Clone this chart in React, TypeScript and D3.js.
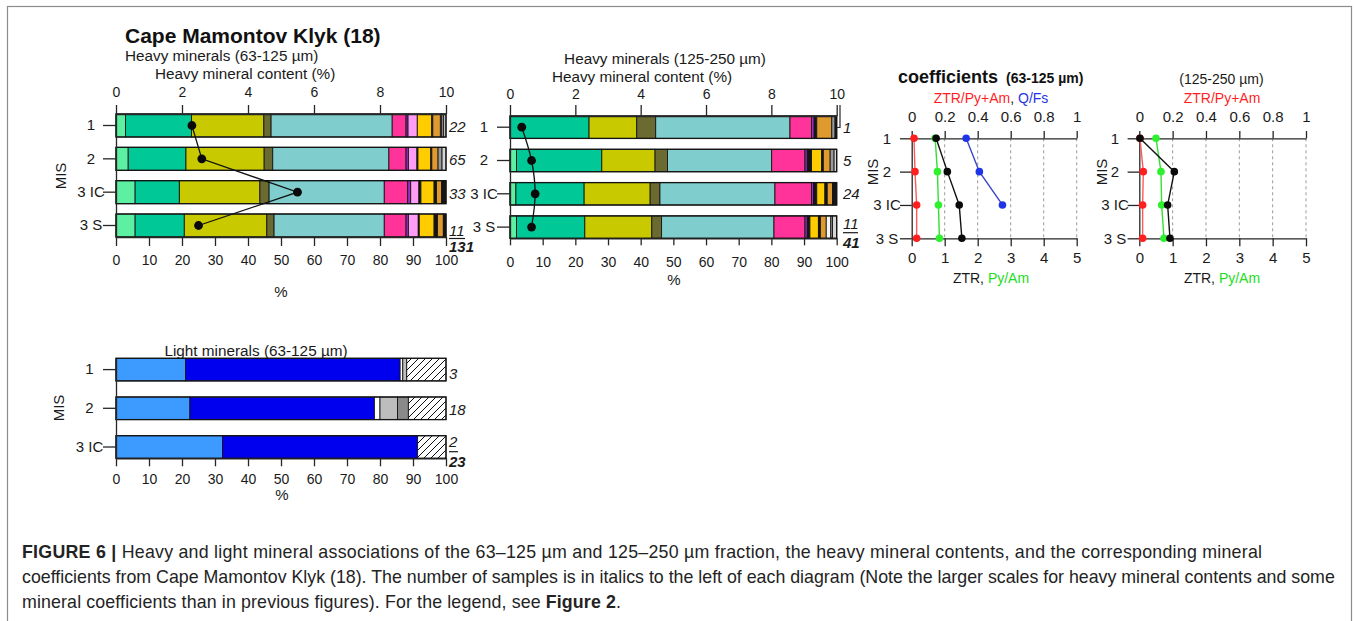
import React, { useEffect, useRef } from 'react';
import * as d3 from 'd3';

const FONT = "'Liberation Sans', Arial, Helvetica, sans-serif";
const W = 1354;
const H = 621;

// ---------------- data ----------------
const MIS_HEAVY = ['1', '2', '3 IC', '3 S'];
const MIS_LIGHT = ['1', '2', '3 IC'];

const HEAVY_KEYS = ['lightGreen', 'teal', 'olive', 'darkOlive', 'cyan', 'magenta', 'purple', 'pink', 'black1', 'gold', 'black2', 'orange', 'white', 'gray', 'lightGray', 'black3'];
const HEAVY_COLORS = ['#5df0a2', '#00c896', '#c9c900', '#6b6a30', '#80cdcd', '#ff3399', '#9b30c8', '#ff9cf5', '#151515', '#ffcc00', '#151515', '#de9a2e', '#f4f4f4', '#9a9a9a', '#d6d6d6', '#151515'];

// heavy minerals 63-125 µm (% per MIS row)
const heavyFine = [
  [2.9, 20.0, 21.9, 2.2, 36.7, 4.2, 0.6, 2.8, 0, 4.4, 0.3, 2.3, 0.4, 0.6, 0.7, 0],
  [3.7, 17.5, 23.7, 2.6, 35.2, 5.2, 0.7, 2.6, 0.3, 3.9, 0.3, 1.9, 0, 1.2, 1.2, 0],
  [5.8, 13.4, 24.4, 2.8, 34.9, 7.1, 0.9, 2.5, 0.6, 4.0, 0.7, 1.6, 0, 0, 0, 1.3],
  [5.8, 14.9, 25.0, 2.2, 33.4, 6.6, 0.7, 3.0, 0.3, 4.5, 1.0, 1.8, 0, 0, 0, 0.8],
];
// heavy minerals 125-250 µm
const heavyCoarse = [
  [0, 24.2, 14.6, 5.8, 41.1, 6.6, 0.8, 0, 0.8, 0, 0, 4.6, 0, 1.0, 0, 0.5],
  [2.0, 26.1, 16.3, 3.8, 31.9, 10.2, 0.7, 0, 1.3, 3.1, 0.5, 2.1, 0, 1.2, 0.8, 0],
  [1.8, 20.9, 20.2, 3.0, 35.2, 11.2, 0.6, 0, 1.0, 2.5, 0.7, 1.6, 0, 0, 0, 1.3],
  [2.0, 20.9, 20.5, 3.0, 34.4, 9.5, 0.7, 0, 0.8, 2.6, 0.6, 1.8, 1.4, 0.5, 1.3, 0],
];
// heavy mineral content (%)
const hmcFine = [2.3, 2.6, 5.5, 2.5];
const hmcCoarse = [0.36, 0.66, 0.77, 0.66];
// number of samples
const nFine = ['22', '65', '33', '11'];
const nFineTotal = '131';
const nCoarse = ['1', '5', '24', '11'];
const nCoarseTotal = '41';

const LIGHT_KEYS = ['quartzLight', 'feldsparBlue', 'white', 'lightGray', 'darkGray', 'rockFragments'];
const LIGHT_COLORS = ['#3d9bff', '#0000ee', '#ffffff', '#bdbdbd', '#8a8a8a', 'url(#hatch)'];
const lightFine = [
  [21.1, 65.0, 0.8, 1.2, 0, 11.9],
  [22.4, 55.9, 1.7, 5.3, 3.3, 11.4],
  [32.3, 59.1, 0, 0, 0, 8.6],
];
const nLight = ['3', '18', '2'];
const nLightTotal = '23';

// coefficients
const ztrFine = [0.74, 1.08, 1.44, 1.52];
const pyAmFine = [0.71, 0.78, 0.81, 0.84];
const ztrPyAmFine = [0.014, 0.02, 0.03, 0.03];
const qFsFine = [0.33, 0.41, 0.55];
const ztrCoarse = [0.02, 1.05, 0.85, 0.92];
const pyAmCoarse = [0.5, 0.65, 0.67, 0.74];
const ztrPyAmCoarse = [0.004, 0.024, 0.02, 0.02];

const pctTicks = [0, 10, 20, 30, 40, 50, 60, 70, 80, 90, 100];
const hmcTicks = [0, 2, 4, 6, 8, 10];
const ratioTicks = [0, 0.2, 0.4, 0.6, 0.8, 1];
const ztrTicks = [0, 1, 2, 3, 4, 5];

// ---------------- helpers ----------------
function Axis({ axis, transform, fontSize = 14, labelX }: any) {
  const ref = useRef<SVGGElement>(null);
  useEffect(() => {
    const g = d3.select(ref.current as SVGGElement);
    g.selectAll('*').remove();
    g.call(axis);
    g.attr('font-family', null).attr('font-size', null);
    g.selectAll('text').attr('font-family', FONT).attr('font-size', fontSize).attr('fill', '#1a1a1a');
    g.selectAll('path.domain').attr('stroke', '#262626').attr('stroke-width', 1.3);
    g.selectAll('.tick line').attr('stroke', '#262626').attr('stroke-width', 1.3);
    if (labelX !== undefined) g.selectAll('text').attr('x', labelX).attr('text-anchor', 'middle');
  });
  return <g ref={ref} transform={transform} />;
}

function Counts({ x, ys, labels, total, underlineY, totalY, width }: any) {
  return (
    <g fontStyle="italic" fontSize={15} fill="#1a1a1a">
      {labels.map((l: string, i: number) => (
        <text key={i} x={x} y={ys[i]}>{l}</text>
      ))}
      <line x1={x} x2={x + width} y1={underlineY} y2={underlineY} stroke="#1a1a1a" strokeWidth={1.2} />
      <text x={x} y={totalY} fontWeight="bold">{total}</text>
    </g>
  );
}

function StackedPanel({ x0, x1, y0, y1, padInner, cats, rows, keys, fills, labelX, leftTick, topAxis, botTick, botPad }: any) {
  const x = d3.scaleLinear().domain([0, 100]).range([x0, x1]);
  const y = d3.scaleBand<string>().domain(cats).range([y0, y1]).paddingInner(padInner).paddingOuter(0);
  const table = rows.map((vals: number[], i: number) => {
    const o: any = { mis: cats[i] };
    keys.forEach((k: string, j: number) => (o[k] = vals[j]));
    return o;
  });
  const series = d3.stack<any>().keys(keys)(table);
  const bw = y.bandwidth();
  return (
    <g>
      {series.map((s, j) =>
        s.map((d, i) =>
          d[1] - d[0] > 0 ? (
            <rect key={`${j}-${i}`} x={x(d[0])} y={y(cats[i])} width={x(d[1]) - x(d[0])} height={bw}
              fill={fills[j]} stroke="#141414" strokeWidth={0.9} />
          ) : null
        )
      )}
      {cats.map((c: string) => (
        <rect key={c} x={x(0)} y={y(c)} width={x(100) - x(0)} height={bw} fill="none" stroke="#141414" strokeWidth={1.3} />
      ))}
      <Axis axis={d3.axisLeft(y).tickSizeInner(leftTick).tickSizeOuter(0).tickPadding(2)} transform={`translate(${x0},0)`} fontSize={15} labelX={labelX} />
      <Axis axis={d3.axisBottom(x).tickValues(pctTicks).tickSizeInner(botTick).tickSizeOuter(0).tickPadding(botPad).tickFormat((d: any) => String(d))}
        transform={`translate(0,${y1})`} fontSize={14} />
      {topAxis}
    </g>
  );
}

function CoefPanel({ x0, x1, y0, y1, labelX, series }: any) {
  const xr = d3.scaleLinear().domain([0, 1]).range([x0, x1]);
  const xz = d3.scaleLinear().domain([0, 5]).range([x0, x1]);
  const y = d3.scalePoint<string>().domain(MIS_HEAVY).range([y0, y1]);
  return (
    <g>
      {ratioTicks.slice(1).map((t) => (
        <line key={t} x1={xr(t)} x2={xr(t)} y1={y0} y2={y1} stroke="#9a9a9a" strokeWidth={1} strokeDasharray="3,3" />
      ))}
      <Axis axis={d3.axisLeft(y).tickSizeInner(11.7).tickSizeOuter(0).tickPadding(2)} transform={`translate(${x0},0)`} fontSize={15} labelX={labelX} />
      <Axis axis={d3.axisTop(xr).tickValues(ratioTicks).tickSizeInner(7.3).tickSizeOuter(0).tickPadding(9.3).tickFormat((d: any) => String(d))}
        transform={`translate(0,${y0})`} fontSize={15} />
      <Axis axis={d3.axisBottom(xz).tickValues(ztrTicks).tickSizeInner(8).tickSizeOuter(0).tickPadding(6).tickFormat((d: any) => String(d))}
        transform={`translate(0,${y1})`} fontSize={15} />
      {series.map((s: any, k: number) => {
        const sx = s.scale === 'ratio' ? xr : xz;
        const pts = s.values.map((v: number, i: number) => [sx(v), y(MIS_HEAVY[i]) as number] as [number, number]);
        return (
          <g key={k}>
            <path d={d3.line()(pts) || ''} fill="none" stroke={s.line} strokeWidth={1.4} />
            {pts.map((p: [number, number], i: number) => (
              <circle key={i} cx={p[0]} cy={p[1]} r={3.8} fill={s.color} />
            ))}
          </g>
        );
      })}
    </g>
  );
}

function HmcLine({ x0, x1, y0, y1, padInner, values, curve }: any) {
  const x = d3.scaleLinear().domain([0, 10]).range([x0, x1]);
  const y = d3.scaleBand<string>().domain(MIS_HEAVY).range([y0, y1]).paddingInner(padInner).paddingOuter(0);
  const pts = values.map((v: number, i: number) => [x(v), (y(MIS_HEAVY[i]) as number) + y.bandwidth() / 2] as [number, number]);
  const line = d3.line().curve(curve);
  return (
    <g>
      <path d={line(pts) || ''} fill="none" stroke="#111" strokeWidth={1.3} />
      {pts.map((p: [number, number], i: number) => (
        <circle key={i} cx={p[0]} cy={p[1]} r={4.4} fill="#0a0a0a" />
      ))}
    </g>
  );
}

function RotLabel({ x, y, text, size = 15 }: any) {
  return (
    <text transform={`translate(${x},${y}) rotate(-90)`} textAnchor="middle" dy="0.36em" fontSize={size} fill="#1a1a1a">{text}</text>
  );
}

export default function App() {
  // panel geometry
  const P1 = { x0: 116, x1: 446, y0: 114, y1: 237, pad: 0.31 };
  const P2 = { x0: 510, x1: 836.7, y0: 116, y1: 238.3, pad: 0.327 };
  const PL = { x0: 116, x1: 446, y0: 358.3, y1: 458.3, pad: 0.416 };
  const hx1 = d3.scaleLinear().domain([0, 10]).range([P1.x0, P1.x1]);
  const hx2 = d3.scaleLinear().domain([0, 10]).range([P2.x0, P2.x1]);

  const redLine = '#ff5a5a', red = '#ff1f1f', greenLine = '#33e033', green = '#2ef02e', blueLine = '#3a46c8', blue = '#1f34e6';

  return (
    <svg width={W} height={H} style={{ position: 'absolute', left: 0, top: 0, background: '#fff' }} fontFamily={FONT}>
      <defs>
        <pattern id="hatch" patternUnits="userSpaceOnUse" width="7" height="7">
          <rect width="7" height="7" fill="#fff" />
          <path d="M-1,1 l2,-2 M0,7 l7,-7 M6,8 l2,-2" stroke="#111" strokeWidth="1" />
        </pattern>
      </defs>
      <rect x={7.5} y={6.5} width={1344} height={700} fill="none" stroke="#8c8c8c" strokeWidth={1.2} />

      {/* ---------- Panel 1: heavy minerals 63-125 ---------- */}
      <text x={125} y={43} fontSize={21} fontWeight="bold" fill="#111">Cape Mamontov Klyk (18)</text>
      <text x={125} y={61} fontSize={15.3} fill="#1a1a1a">Heavy minerals (63-125 µm)</text>
      <text x={155} y={79} fontSize={15.3} fill="#1a1a1a">Heavy mineral content (%)</text>
      <StackedPanel x0={P1.x0} x1={P1.x1} y0={P1.y0} y1={P1.y1} padInner={P1.pad} cats={MIS_HEAVY} rows={heavyFine}
        keys={HEAVY_KEYS} fills={HEAVY_COLORS} labelX={-25} leftTick={13} botTick={9} botPad={8.7}
        topAxis={<Axis axis={d3.axisTop(hx1).tickValues(hmcTicks).tickSizeInner(9).tickSizeOuter(0).tickPadding(8).tickFormat((d: any) => String(d))}
          transform={`translate(0,${P1.y0})`} fontSize={14} />} />
      <HmcLine x0={P1.x0} x1={P1.x1} y0={P1.y0} y1={P1.y1} padInner={P1.pad} values={hmcFine} curve={d3.curveLinear} />
      <RotLabel x={61} y={176} text="MIS" />
      <text x={281} y={297} fontSize={15} textAnchor="middle" fill="#1a1a1a">%</text>
      <Counts x={449} ys={[131.5, 165, 199, 236]} labels={nFine} total={nFineTotal} underlineY={238.5} totalY={252} width={16} />

      {/* ---------- Panel 2: heavy minerals 125-250 ---------- */}
      <text x={665} y={64} fontSize={15.3} textAnchor="middle" fill="#1a1a1a">Heavy minerals (125-250 µm)</text>
      <text x={642} y={81.5} fontSize={15.3} textAnchor="middle" fill="#1a1a1a">Heavy mineral content (%)</text>
      <StackedPanel x0={P2.x0} x1={P2.x1} y0={P2.y0} y1={P2.y1} padInner={P2.pad} cats={MIS_HEAVY} rows={heavyCoarse}
        keys={HEAVY_KEYS} fills={HEAVY_COLORS} labelX={-26} leftTick={13} botTick={7} botPad={11.4}
        topAxis={<Axis axis={d3.axisTop(hx2).tickValues(hmcTicks).tickSizeInner(11).tickSizeOuter(0).tickPadding(6).tickFormat((d: any) => String(d))}
          transform={`translate(0,${P2.y0})`} fontSize={14} />} />
      <path d={`M${P2.x1 + 3.3},${P2.y0 - 11} V${P2.y0 + 11.5} H${P2.x1}`} fill="none" stroke="#262626" strokeWidth={1.2} />
      <HmcLine x0={P2.x0} x1={P2.x1} y0={P2.y0} y1={P2.y1} padInner={P2.pad} values={hmcCoarse} curve={d3.curveCatmullRom} />
      <text x={674} y={285} fontSize={15} textAnchor="middle" fill="#1a1a1a">%</text>
      <Counts x={843} ys={[132.5, 166, 199, 228.5]} labels={nCoarse} total={nCoarseTotal} underlineY={232.7} totalY={248} width={15} />

      {/* ---------- Coefficients 63-125 ---------- */}
      <text x={898} y={83} fill="#111">
        <tspan fontSize={18} fontWeight="bold">coefficients</tspan>
        <tspan fontSize={14} fontWeight="bold" dx={8}>(63-125 µm)</tspan>
      </text>
      <text x={991} y={103} fontSize={14} textAnchor="middle">
        <tspan fill="#ff1f1f">ZTR/Py+Am</tspan><tspan fill="#1a1a1a">, </tspan><tspan fill="#1f34e6">Q/Fs</tspan>
      </text>
      <CoefPanel x0={911.7} x1={1076.7} y0={138.3} y1={238.3} labelX={-24.7}
        series={[
          { values: ztrPyAmFine, scale: 'ratio', color: red, line: redLine },
          { values: pyAmFine, scale: 'ztr', color: green, line: greenLine },
          { values: qFsFine, scale: 'ratio', color: blue, line: blueLine },
          { values: ztrFine, scale: 'ztr', color: '#0a0a0a', line: '#111' },
        ]} />
      <RotLabel x={872.5} y={172} text="MIS" />
      <text x={991} y={282.5} fontSize={14} textAnchor="middle">
        <tspan fill="#1a1a1a">ZTR, </tspan><tspan fill="#22dd22">Py/Am</tspan>
      </text>

      {/* ---------- Coefficients 125-250 ---------- */}
      <text x={1221.5} y={84} fontSize={14} textAnchor="middle" fill="#1a1a1a">(125-250 µm)</text>
      <text x={1222} y={103} fontSize={14} textAnchor="middle" fill="#ff1f1f">ZTR/Py+Am</text>
      <CoefPanel x0={1139.3} x1={1306} y0={138.3} y1={238.3} labelX={-24.3}
        series={[
          { values: ztrPyAmCoarse, scale: 'ratio', color: red, line: redLine },
          { values: pyAmCoarse, scale: 'ztr', color: green, line: greenLine },
          { values: ztrCoarse, scale: 'ztr', color: '#0a0a0a', line: '#111' },
        ]} />
      <RotLabel x={1102} y={172} text="MIS" />
      <text x={1222} y={282.5} fontSize={14} textAnchor="middle">
        <tspan fill="#1a1a1a">ZTR, </tspan><tspan fill="#22dd22">Py/Am</tspan>
      </text>

      {/* ---------- Light minerals ---------- */}
      <text x={256} y={356} fontSize={15.3} textAnchor="middle" fill="#1a1a1a">Light minerals (63-125 µm)</text>
      <StackedPanel x0={PL.x0} x1={PL.x1} y0={PL.y0} y1={PL.y1} padInner={PL.pad} cats={MIS_LIGHT} rows={lightFine}
        keys={LIGHT_KEYS} fills={LIGHT_COLORS} labelX={-26.5} leftTick={13} botTick={8} botPad={7.5} topAxis={null} />
      <RotLabel x={58.5} y={408} text="MIS" />
      <text x={282} y={500} fontSize={15} textAnchor="middle" fill="#1a1a1a">%</text>
      <Counts x={449} ys={[379, 415, 446.5]} labels={nLight} total={nLightTotal} underlineY={451.7} totalY={466.7} width={9} />

      {/* ---------- Caption ---------- */}
      <g fontSize={17.8} fill="#232323">
        <text x={22} y={558} textLength={1240} lengthAdjust="spacing">
          <tspan fontWeight="bold">FIGURE 6 | </tspan>Heavy and light mineral associations of the 63–125 µm and 125–250 µm fraction, the heavy mineral contents, and the corresponding mineral
        </text>
        <text x={22} y={582.8}>coefficients from Cape Mamontov Klyk (18). The number of samples is in italics to the left of each diagram (Note the larger scales for heavy mineral contents and some</text>
        <text x={22} y={607.6} textLength={599} lengthAdjust="spacing">mineral coefficients than in previous figures). For the legend, see <tspan fontWeight="bold">Figure 2</tspan>.</text>
      </g>
    </svg>
  );
}
